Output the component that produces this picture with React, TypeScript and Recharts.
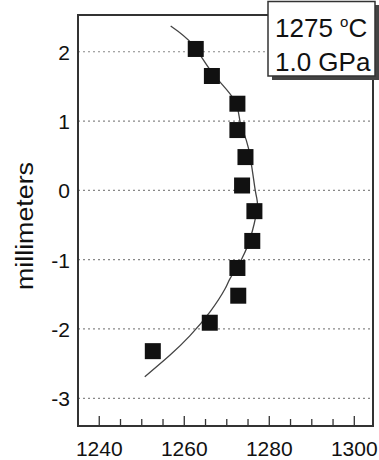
import React from 'react';
import { ScatterChart, Scatter, XAxis, YAxis, CartesianGrid, ReferenceArea, Label } from 'recharts';

// Measured profile (temperature °C vs. position mm)
const temperature = [1262.7, 1266.5, 1272.5, 1272.5, 1274.4, 1273.6, 1276.5, 1276.0, 1272.5, 1272.7, 1266.0, 1252.6];
const depth = [2.04, 1.65, 1.25, 0.87, 0.48, 0.07, -0.3, -0.73, -1.12, -1.52, -1.91, -2.32];

// Fitted curve
const fitTemperature = [1256.8, 1262.0, 1266.8, 1271.8, 1273.2, 1275.1, 1276.7, 1277.2, 1276.0, 1273.6, 1270.8, 1269.6, 1266.1, 1261.3, 1256.6, 1250.7];
const fitDepth = [2.37, 2.1, 1.68, 1.3, 0.97, 0.61, 0.0, -0.22, -0.59, -0.98, -1.27, -1.42, -1.75, -2.1, -2.38, -2.69];

const xTicks = [1240, 1245, 1250, 1255, 1260, 1265, 1270, 1275, 1280, 1285, 1290, 1295, 1300];
const xLabelTicks = [1240, 1260, 1280, 1300];
const yTicks = [-3, -2, -1, 0, 1, 2];
const xDomain = [1235, 1304.4];
const yDomain = [-3.4, 2.53];

const legendLine1 = '1275 ';
const legendSup = 'o';
const legendUnit = 'C';
const legendLine2 = '1.0 GPa';
const yTitle = 'millimeters';

const points = temperature.map((t, i) => ({ x: t, y: depth[i] }));
const fit = fitTemperature.map((t, i) => ({ x: t, y: fitDepth[i] }));

const FONT = '"Liberation Sans", Arial, Helvetica, sans-serif';
const TEXT = '#111';

const Square = (props: any) => {
  const { cx, cy } = props;
  if (cx == null || cy == null) return <g />;
  return <rect x={cx - 8} y={cy - 8} width={16} height={16} fill="#111" />;
};

const NoShape = () => <g />;

const BottomTick = (props: any) => {
  const { x, y, payload } = props;
  const major = xLabelTicks.includes(payload.value);
  const len = major ? 10 : 7;
  return (
    <g>
      <line x1={x} x2={x} y1={y} y2={y - len} stroke="#333" strokeWidth={1.3} />
      {major && (
        <text x={x} y={y + 30} textAnchor="middle" fill={TEXT} style={{ fontSize: '21px', fontFamily: FONT }}>
          {payload.value}
        </text>
      )}
    </g>
  );
};

const TopTick = (props: any) => {
  const { x, y, payload } = props;
  const major = xLabelTicks.includes(payload.value);
  const len = major ? 10 : 7;
  return <line x1={x} x2={x} y1={y} y2={y + len} stroke="#333" strokeWidth={1.3} />;
};

const LeftTick = (props: any) => {
  const { y, payload } = props;
  return (
    <text x={70} y={y + 8} textAnchor="end" fill={TEXT} style={{ fontSize: '21px', fontFamily: FONT }}>
      {payload.value}
    </text>
  );
};

export default function App() {
  return (
    <div style={{ position: 'absolute', left: 0, top: 0, width: 379, height: 460, background: '#fff' }}>
      <ScatterChart width={379} height={460} margin={{ top: 15, right: 6, bottom: 0, left: 0 }}>
        <CartesianGrid vertical={false} stroke="#888" strokeDasharray="2 3" strokeWidth={1.2} />
        <XAxis xAxisId={0} type="number" dataKey="x" domain={xDomain} ticks={xTicks} allowDataOverflow height={34}
          tickLine={false} axisLine={false} tickSize={0} tickMargin={0} tick={<BottomTick />} interval={0} />
        <XAxis xAxisId="t" orientation="top" type="number" dataKey="x" domain={xDomain} ticks={xTicks} allowDataOverflow
          height={0} tickLine={false} axisLine={false} tickSize={0} tickMargin={0} tick={<TopTick />} interval={0} />
        <YAxis type="number" dataKey="y" domain={yDomain} ticks={yTicks} allowDataOverflow width={78}
          tickLine={false} axisLine={false} interval={0} tick={<LeftTick />}>
          <Label
            content={() => (
              <text x={33} y={226} transform="rotate(-90 33 226)" textAnchor="middle" fill={TEXT}
                style={{ fontSize: '23px', fontFamily: FONT }} textLength={128} lengthAdjust="spacingAndGlyphs">
                {yTitle}
              </text>
            )}
          />
        </YAxis>
        <Scatter data={fit} line={{ stroke: '#444', strokeWidth: 1.3 }} lineJointType="natural" shape={NoShape} isAnimationActive={false} />
        <Scatter data={points} shape={Square} isAnimationActive={false} />
        <ReferenceArea x1={xDomain[0]} x2={xDomain[1]} y1={yDomain[0]} y2={yDomain[1]} fill="none" fillOpacity={0}
          stroke="#333" strokeWidth={2} ifOverflow="visible" />
      </ScatterChart>
      <svg width={379} height={460} style={{ position: 'absolute', left: 0, top: 0, pointerEvents: 'none' }}>
        <rect x={272} y={5} width={107} height={75} fill="#444" />
        <rect x={268} y={1.5} width={107} height={74.5} fill="#fff" stroke="#333" strokeWidth={1.5} />
        <text x={275} y={37} fill={TEXT} style={{ fontSize: '26px', fontFamily: FONT }}>
          {legendLine1}
          <tspan dy={-10} style={{ fontSize: '15px' }}>{legendSup}</tspan>
          <tspan dy={10}>{legendUnit}</tspan>
        </text>
        <text x={275} y={71} fill={TEXT} style={{ fontSize: '26px', fontFamily: FONT }}>
          {legendLine2}
        </text>
      </svg>
    </div>
  );
}
